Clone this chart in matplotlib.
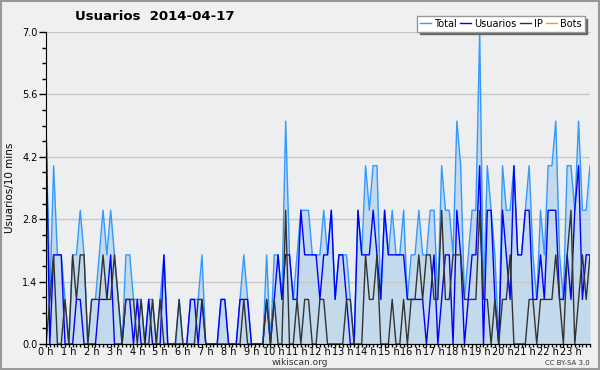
import numpy as np
import matplotlib
matplotlib.use('Agg')
import matplotlib.pyplot as plt
from matplotlib.patches import Rectangle

# usuarios activos por tramo de 10 minutos, 2014-04-17
total = [5, 1, 4, 2, 2, 1, 0, 2, 2, 3, 2, 0,
         1, 1, 2, 3, 2, 3, 2, 1, 0, 2, 2, 1,
         1, 1, 0, 1, 1, 0, 1, 2, 0, 0, 0, 1,
         0, 0, 1, 1, 1, 2, 0, 0, 0, 0, 1, 1,
         0, 0, 0, 1, 2, 1, 0, 0, 0, 0, 2, 0,
         2, 2, 1, 5, 2, 1, 2, 3, 3, 3, 2, 2,
         2, 3, 2, 3, 1, 2, 2, 2, 1, 0, 3, 2,
         4, 3, 4, 4, 1, 3, 2, 3, 2, 2, 3, 1,
         2, 2, 3, 2, 2, 3, 3, 1, 4, 3, 3, 2,
         5, 4, 1, 2, 3, 3, 7, 1, 4, 3, 2, 0,
         4, 3, 3, 4, 2, 2, 3, 4, 2, 1, 3, 2,
         4, 4, 5, 2, 1, 4, 4, 3, 5, 3, 3, 4]
usuarios = [5, 0, 2, 2, 2, 0, 0, 0, 1, 1, 0, 0,
            0, 0, 1, 1, 1, 2, 0, 0, 0, 1, 1, 0,
            1, 0, 0, 1, 0, 0, 0, 2, 0, 0, 0, 0,
            0, 0, 1, 1, 0, 1, 0, 0, 0, 0, 1, 1,
            0, 0, 0, 1, 1, 1, 0, 0, 0, 0, 1, 0,
            1, 2, 1, 2, 2, 1, 1, 3, 2, 2, 2, 2,
            1, 2, 2, 3, 1, 2, 2, 1, 0, 0, 3, 2,
            2, 2, 3, 2, 1, 3, 2, 2, 2, 2, 2, 1,
            1, 1, 1, 1, 0, 1, 2, 0, 1, 2, 2, 0,
            3, 2, 0, 1, 2, 2, 4, 0, 3, 3, 1, 0,
            3, 2, 1, 4, 2, 2, 3, 3, 1, 1, 2, 1,
            3, 3, 3, 1, 1, 2, 1, 3, 4, 1, 2, 2]
ip = [0, 1, 2, 0, 0, 1, 0, 2, 1, 2, 2, 0,
      1, 1, 1, 2, 1, 1, 2, 1, 0, 1, 1, 1,
      0, 1, 0, 0, 1, 0, 1, 0, 0, 0, 0, 1,
      0, 0, 0, 0, 1, 1, 0, 0, 0, 0, 0, 0,
      0, 0, 0, 0, 1, 0, 0, 0, 0, 0, 1, 0,
      1, 0, 0, 3, 0, 0, 1, 0, 1, 1, 0, 0,
      1, 1, 0, 0, 0, 0, 0, 1, 1, 0, 0, 0,
      2, 1, 1, 2, 0, 0, 0, 1, 0, 0, 1, 0,
      1, 1, 2, 1, 2, 2, 1, 1, 3, 1, 1, 2,
      2, 2, 1, 1, 1, 1, 3, 1, 1, 0, 1, 0,
      1, 1, 2, 0, 0, 0, 0, 1, 1, 0, 1, 1,
      1, 1, 2, 1, 0, 2, 3, 0, 1, 2, 1, 2]
bots = [0] * 144
hour_labels = ['%d h' % h for h in range(24)]

x = np.arange(len(total))

plt.rcParams['font.family'] = ['DejaVu Sans']

fig = plt.figure(figsize=(6, 3.7), dpi=100, facecolor='#f0f0f0')
ax = fig.add_axes([46/600, 1-344/370, 544/600, 312/370])
ax.set_facecolor('#eceef0')

ax.fill_between(x, total, 0, color='#9cc8ec', alpha=0.5, lw=0, zorder=1)
ax.plot(x, bots, color='#ff9900', lw=1, zorder=2, label='Bots')
ax.plot(x, total, color='#3399ff', lw=1, zorder=3, label='Total')
ax.plot(x, usuarios, color='#0000ff', lw=1, zorder=4, label='Usuarios')
ax.plot(x, ip, color='#333333', lw=1, zorder=5, label='IP')

ax.set_xlim(0, 143)
ax.set_ylim(0, 7)
ax.set_yticks(np.arange(0, 7.01, 1.4))
ax.set_yticklabels(['%.1f' % v for v in np.arange(0, 7.01, 1.4)])
ax.set_yticks(np.arange(0, 7.01, 0.35), minor=True)
ax.set_xticks(np.arange(0, 144, 6))
ax.set_xticklabels(hour_labels)
ax.set_xticks(x, minor=True)
ax.tick_params(axis='both', which='major', labelsize=7, direction='out', length=5, width=1, pad=1)
ax.tick_params(axis='both', which='minor', direction='out', length=3, width=1)
ax.tick_params(axis='x', which='major', length=2, pad=0)
ax.tick_params(axis='x', which='minor', length=2)
ax.grid(axis='y', color='#c8c8c8', lw=1)
ax.grid(axis='x', visible=False)
for s in ['top', 'right']:
    ax.spines[s].set_visible(False)
for s in ['left', 'bottom']:
    ax.spines[s].set_zorder(6)

ax.set_ylabel('Usuarios/10 mins', fontsize=7.5, labelpad=5)

h, l = ax.get_legend_handles_labels()
order = [1, 2, 3, 0]
leg = ax.legend([h[i] for i in order], [l[i] for i in order], loc='upper right',
                bbox_to_anchor=(0.99, 1.052), ncol=4, fontsize=7, frameon=True,
                fancybox=False, shadow={'color': '#666666', 'alpha': 1},
                handlelength=1.1, handletextpad=0.3, columnspacing=0.4,
                borderpad=0.3, borderaxespad=0)
leg.get_frame().set_edgecolor('#999999')
leg.get_frame().set_facecolor('white')
leg.set_zorder(10)

fig.text(75/600, 1-17/370, 'Usuarios  2014-04-17', fontsize=9.5, fontweight='bold',
         ha='left', va='center')
fig.text(300/600, 1-362.5/370, 'wikiscan.org', fontsize=6.5, ha='center', va='center', color='#333333')
fig.text(590/600, 1-363/370, 'CC BY-SA 3.0', fontsize=5, ha='right', va='center', color='#333333')

fig.patches.append(Rectangle((0.001, 0.002), 0.997, 0.996, transform=fig.transFigure,
                             fill=False, edgecolor='#999999', lw=1.5))

fig.savefig('out.png', dpi=100, facecolor=fig.get_facecolor())
print('done!')
